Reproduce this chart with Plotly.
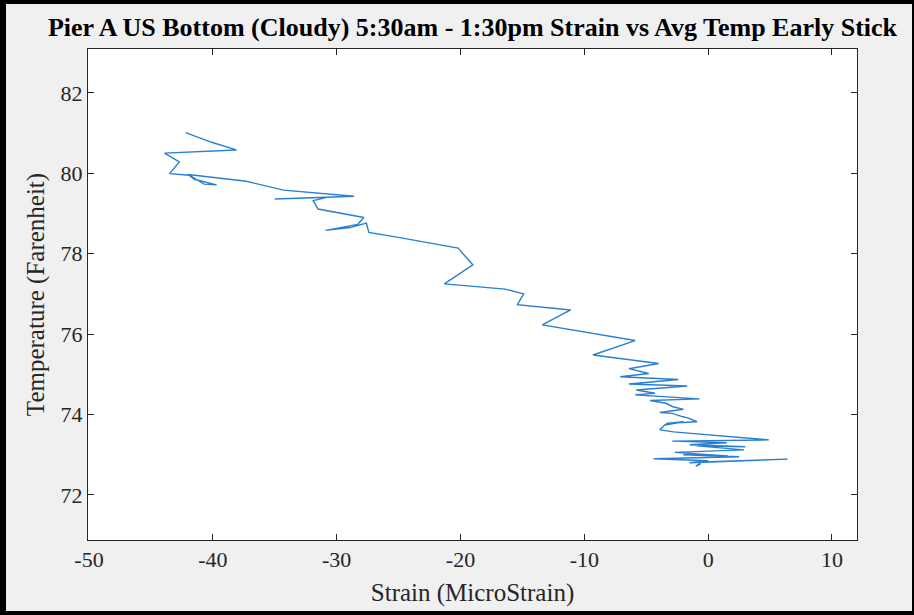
import plotly.graph_objects as go

strain = [
    -42.2, -40.1, -38.1, -43.9, -42.7, -43.5, -41.9, -40.7, -39.7, -41.5,
    -42.0, -37.3, -34.3, -28.6, -35.0, -30.8, -31.9, -31.5, -27.8, -28.3,
    -30.9, -28.9, -27.6, -27.4, -24.9, -20.2, -19.0, -21.3, -16.4, -14.9,
    -15.4, -11.1, -13.4, -5.9, -9.3, -4.0, -6.4, -4.8, -7.1, -2.4,
    -6.4, -1.7, -5.8, -4.3, -5.9, -0.7, -4.7, -3.4, -2.9, -2.0,
    -3.9, -2.9, -2.1, -1.6, -0.9, -3.4, -2.0, -3.5, -3.9, -2.8,
    4.9, -2.9, 1.5, -1.5, 3.0, -0.9, 2.9, -2.7, 1.6, -2.0,
    2.5, -4.4, 0.0, -1.5, 6.4, -0.5, -1.0, -0.6, -0.9,
]
temperature = [
    81.01, 80.77, 80.58, 80.50, 80.28, 79.99, 79.95, 79.73, 79.71, 79.85,
    79.97, 79.80, 79.58, 79.43, 79.36, 79.40, 79.32, 79.11, 78.90, 78.73,
    78.58, 78.65, 78.76, 78.53, 78.40, 78.14, 77.72, 77.25, 77.12, 77.00,
    76.73, 76.60, 76.23, 75.84, 75.48, 75.27, 75.14, 75.02, 74.94, 74.87,
    74.76, 74.71, 74.61, 74.53, 74.49, 74.39, 74.35, 74.28, 74.20, 74.13,
    74.05, 74.03, 73.95, 73.91, 73.82, 73.78, 73.82, 73.74, 73.62, 73.57,
    73.37, 73.34, 73.30, 73.25, 73.20, 73.22, 73.12, 73.06, 72.97, 73.00,
    72.95, 72.90, 72.85, 72.80, 72.89, 72.82, 72.72, 72.78, 72.72,
]

x_ticks = [-50, -40, -30, -20, -10, 0, 10]
x_tick_labels = ["-50", "-40", "-30", "-20", "-10", "0", "10"]
y_ticks = [72, 74, 76, 78, 80, 82]
y_tick_labels = ["72", "74", "76", "78", "80", "82"]

W, H = 914, 615
L, R, T, B = 88, 57, 49, 75
PW, PH = W - L - R, H - T - B

fig = go.Figure()
fig.add_trace(go.Scatter(
    x=strain, y=temperature, mode="lines",
    line=dict(color="#2a7fd0", width=1.4),
    showlegend=False, hoverinfo="skip",
))

axis_common = dict(
    showgrid=False, zeroline=False, showline=True, linecolor="#262626",
    linewidth=1, mirror="ticks", ticks="inside", ticklen=6,
    tickcolor="#262626", tickwidth=1,
    tickfont=dict(family="Liberation Serif", size=22, color="#262626"),
)

fig.update_layout(
    width=W, height=H,
    margin=dict(l=L, r=R, t=T, b=B),
    paper_bgcolor="#f0f0f0", plot_bgcolor="white",
    title=dict(
        text="<b>Pier A US Bottom (Cloudy) 5:30am - 1:30pm Strain vs Avg Temp Early Stick</b>",
        font=dict(family="Liberation Serif", size=26, color="black"),
        x=(L + PW / 2) / W, xanchor="center", y=1 - 27 / H, yanchor="middle",
    ),
    xaxis=dict(
        range=[-50.08, 12.02], tickvals=x_ticks, ticktext=x_tick_labels,
        title=dict(text="Strain (MicroStrain)", standoff=12,
                   font=dict(family="Liberation Serif", size=25, color="#262626")),
        **axis_common,
    ),
    yaxis=dict(
        range=[70.88, 83.09], tickvals=y_ticks, ticktext=y_tick_labels,
        title=dict(text="Temperature (Farenheit)", standoff=8,
                   font=dict(family="Liberation Serif", size=25, color="#262626")),
        **axis_common,
    ),
)

def px_rect(x0, y0, x1, y1):
    fig.add_shape(
        type="rect", xref="paper", yref="paper",
        x0=(x0 - L) / PW, x1=(x1 - L) / PW,
        y0=(H - B - y0) / PH, y1=(H - B - y1) / PH,
        fillcolor="black", line=dict(width=0), layer="above",
    )

px_rect(0, 0, 6, H)
px_rect(0, 0, W, 4)
px_rect(0, H - 4, W, H)
px_rect(W - 2, 0, W, H)

fig.write_html(
    "out.html",
    config={"displayModeBar": False, "staticPlot": True},
    post_script="document.body.style.margin='0';document.body.style.overflow='hidden';",
)
